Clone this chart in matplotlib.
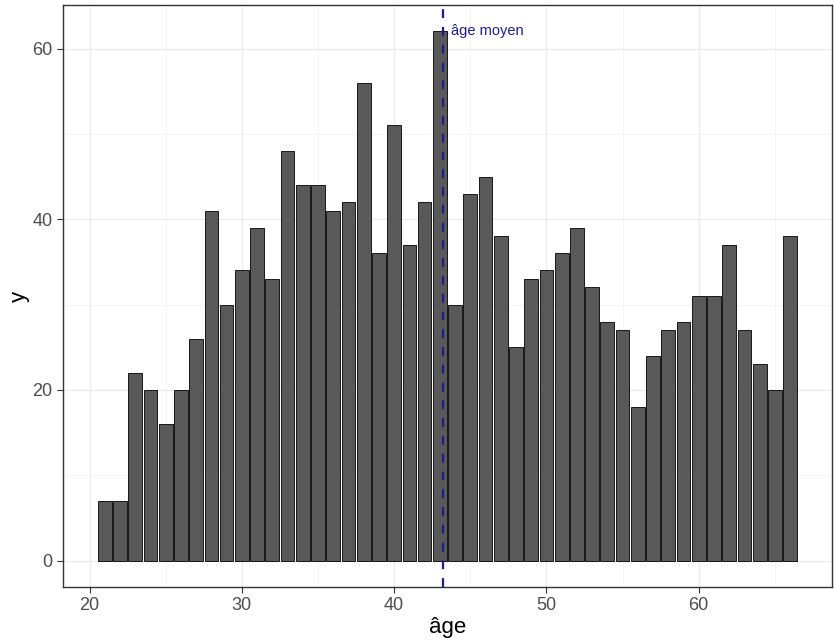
import matplotlib.pyplot as plt
import numpy as np

plt.rcParams['font.family'] = ['Liberation Sans', 'DejaVu Sans']

ages = list(range(21, 67))
effectifs = [7, 7, 22, 20, 16, 20, 26, 41, 30, 34, 39, 33, 48, 44, 44, 41, 42, 56, 36, 51,
             37, 42, 62, 30, 43, 45, 38, 25, 33, 34, 36, 39, 32, 28, 27, 18, 24, 27, 28, 31,
             31, 37, 27, 23, 20, 38]
age_moyen = 43.2

fig = plt.figure(figsize=(8.34, 6.41), dpi=100)
ax = fig.add_axes([0.0755, 0.0842, 0.922, 0.908])

ax.bar(ages, effectifs, width=0.9, color='#595959', edgecolor='black', linewidth=0.6, zorder=3)
ax.axvline(age_moyen, color='#1c1c8f', linestyle=(0, (4, 4)), linewidth=1.6, zorder=4)
ax.text(age_moyen + 0.55, 62, 'âge moyen', color='#1c1c8f', fontsize=10.5,
        va='center', ha='left', zorder=5)

lo, hi = min(ages) - 0.45, max(ages) + 0.45
pad = (hi - lo) * 0.05
ax.set_xlim(lo - pad, hi + pad)
ymax = max(effectifs)
ax.set_ylim(-0.05 * ymax, ymax * 1.05)

ax.set_xticks([20, 30, 40, 50, 60])
ax.set_xticks([25, 35, 45, 55, 65], minor=True)
ax.set_yticks([0, 20, 40, 60])
ax.set_yticks([10, 30, 50], minor=True)

ax.grid(which='major', color='#ebebeb', linewidth=1.0, zorder=0)
ax.grid(which='minor', color='#f2f2f2', linewidth=0.6, zorder=0)
ax.set_axisbelow(True)

for s in ax.spines.values():
    s.set_color('#333333')
    s.set_linewidth(1.0)

ax.tick_params(which='major', length=4, width=0.8, color='#333333',
               labelsize=13, labelcolor='#4d4d4d')
ax.tick_params(which='minor', length=0)

ax.set_xlabel('âge', fontsize=16, labelpad=2)
ax.set_ylabel('y', fontsize=16, labelpad=2)

fig.savefig('out.png', dpi=100)
